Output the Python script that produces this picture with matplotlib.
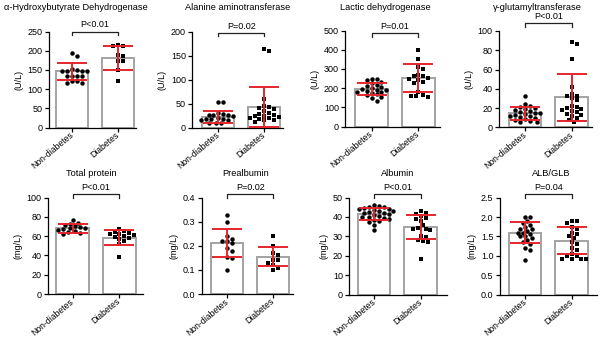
import numpy as np
import matplotlib
matplotlib.use('Agg')
import matplotlib.pyplot as plt

plt.rcParams['font.family'] = ['Liberation Sans', 'DejaVu Sans']

groups = ['Non-diabetes', 'Diabetes']

titles = ['α-Hydroxybutyrate Dehydrogenase', 'Alanine aminotransferase',
          'Lactic dehydrogenase', 'γ-glutamyltransferase',
          'Total protein', 'Prealbumin', 'Albumin', 'ALB/GLB']
units = ['(U/L)', '(U/L)', '(U/L)', '(U/L)', '(mg/L)', '(mg/L)', '(mg/L)', '(mg/L)']
pvals = ['P<0.01', 'P=0.02', 'P=0.01', 'P<0.01', 'P<0.01', 'P=0.02', 'P<0.01', 'P=0.04']
ymax = [250, 200, 500, 100, 100, 0.4, 50, 2.5]
ystep = [50, 50, 100, 20, 20, 0.1, 10, 0.5]

# bar heights (mean) and error bars (SD)
means = [[146, 181], [22, 43], [195, 252], [14.5, 31],
         [68, 58.5], [0.212, 0.155], [41.5, 34.7], [1.6, 1.39]]
sds = [[23, 31], [13, 41], [31, 74], [6.5, 24],
       [5, 7.5], [0.06, 0.04], [3, 6.2], [0.27, 0.35]]

hbdh_non = [193, 187, 152, 150, 148, 148, 148, 146, 135, 135, 133, 133, 120, 120, 115, 115]
hbdh_dia = [215, 213, 212, 190, 185, 172, 172, 150, 122]
alt_non = [54, 54, 30, 28, 26, 26, 26, 23, 19, 18, 17, 17, 16, 16, 10, 10, 9]
alt_dia = [163, 160, 60, 45, 42, 40, 38, 35, 30, 28, 26, 25, 24, 22, 20, 20, 18, 16, 15, 12]
ldh_non = [250, 245, 240, 232, 225, 218, 210, 205, 200, 196, 192, 190, 186, 182, 178,
           172, 168, 162, 155, 148, 135]
ldh_dia = [397, 351, 310, 300, 270, 265, 262, 255, 250, 240, 232, 225, 180, 165, 160, 158, 155]
ggt_non = [32, 24, 22, 21, 20, 19, 18, 17, 16, 15, 15, 14, 13, 12, 12, 11, 10, 9, 8, 7, 6, 6]
ggt_dia = [89, 86, 71, 42, 35, 33, 32, 30, 28, 22, 21, 20, 19, 18, 17, 16, 14, 13, 12, 10, 8, 6]
tp_non = [77, 74, 73, 71, 70, 69, 68, 68, 67, 66, 65, 64, 63, 62]
tp_dia = [67, 65, 64, 63, 62, 62, 61, 60, 59, 58, 57, 55, 52, 38]
pa_non = [0.33, 0.30, 0.24, 0.23, 0.22, 0.22, 0.21, 0.19, 0.18, 0.155, 0.15, 0.10]
pa_dia = [0.24, 0.20, 0.17, 0.16, 0.14, 0.14, 0.13, 0.12, 0.11, 0.10]
alb_non = [46, 45.5, 45, 45, 44.5, 44, 44, 43.5, 43, 43, 42.5, 42, 42, 41.5, 41, 40.5,
           40, 40, 39.5, 39, 38.5, 38, 37.5, 36, 33.5]
alb_dia = [43, 42, 41.5, 40.5, 39.5, 39, 38, 36, 34.5, 34, 34, 33, 30, 29.5, 28, 27.5, 27, 18.5]
ag_non = [2.0, 2.0, 1.9, 1.85, 1.8, 1.75, 1.7, 1.7, 1.65, 1.6, 1.6, 1.55, 1.5, 1.5, 1.45,
          1.4, 1.35, 1.3, 1.2, 1.15, 0.9]
ag_dia = [1.9, 1.9, 1.85, 1.75, 1.7, 1.6, 1.55, 1.5, 1.45, 1.35, 1.3, 1.2, 1.15, 1.05,
          1.0, 1.0, 0.92, 0.92, 0.92, 0.92]

points = [(hbdh_non, hbdh_dia), (alt_non, alt_dia), (ldh_non, ldh_dia), (ggt_non, ggt_dia),
          (tp_non, tp_dia), (pa_non, pa_dia), (alb_non, alb_dia), (ag_non, ag_dia)]

# layout in pixels: first tick x, tick spacing, xlim, top (ymax) y, bottom (0) y
W, H = 600, 337
layout = [
    (72.0, 46.0, (-0.5, 1.4), 31.5, 127.5),
    (218.3, 46.0, (-0.57, 1.4), 31.5, 127.5),
    (371.7, 46.7, (-0.57, 1.46), 30.5, 126.5),
    (525.0, 46.7, (-0.56, 1.44), 31.0, 127.3),
    (72.7, 46.7, (-0.53, 1.5), 197.5, 294.0),
    (227.3, 46.0, (-0.56, 1.43), 197.7, 294.0),
    (374.0, 46.7, (-0.53, 1.56), 197.5, 294.5),
    (525.0, 46.7, (-0.54, 1.54), 197.7, 294.5),
]
title_pos = [(76, 7), (238, 7), (385, 7), (537, 7), (91, 174), (246, 174), (398, 174), (551, 174)]
bracket_frac = [1.0, 0.985, 0.97, 1.08, 1.035, 1.035, 1.035, 1.035]

RED = '#e3262c'
GRAY = '#a3a3a3'


def swarm(vals, h_px, top, sp_px, d=4.4):
    ys = np.asarray(vals, dtype=float) / top * h_px
    xs = np.zeros(len(ys))
    placed = []
    for i in np.argsort(-ys):
        k = 0
        while True:
            off = ((k + 1) // 2) * (1 if k % 2 else -1) * d * 0.55
            ok = all((off - px) ** 2 + (ys[i] - py) ** 2 >= d * d for px, py in placed)
            if ok:
                break
            k += 1
        placed.append((off, ys[i]))
        xs[i] = off / sp_px
    return xs


fig = plt.figure(figsize=(6, 3.37), dpi=100)

for i in range(8):
    t0, sp, xl, ytop, ybot = layout[i]
    left = t0 + xl[0] * sp
    right = t0 + xl[1] * sp
    ax = fig.add_axes([left / W, 1 - ybot / H, (right - left) / W, (ybot - ytop) / H])
    ax.set_xlim(*xl)
    ax.set_ylim(0, ymax[i])

    ax.bar([0, 1], means[i], width=0.7, color='white', edgecolor=GRAY, linewidth=1.4, zorder=1)

    h_px = ybot - ytop
    for g, marker, ms in [(0, 'o', 3.2), (1, 's', 3.0)]:
        vals = points[i][g]
        xs = g + swarm(vals, h_px, ymax[i], sp)
        ax.plot(xs, vals, linestyle='none', marker=marker, ms=ms, color='black',
                markeredgewidth=0, zorder=3, clip_on=False)

    ax.errorbar([0, 1], means[i], yerr=sds[i], fmt='none', ecolor=RED, elinewidth=1.4,
                capsize=10.5, capthick=1.4, zorder=4, clip_on=False)

    # significance bracket
    yb = ymax[i] * bracket_frac[i]
    tick = ymax[i] * 0.035
    ax.plot([0, 0, 1, 1], [yb - tick, yb, yb, yb - tick], color='#222222', lw=0.9,
            clip_on=False, zorder=5)
    ax.text(0.5, yb + ymax[i] * 0.025, pvals[i], ha='center', va='bottom', fontsize=6.5)

    ticks = np.arange(0, ymax[i] + ystep[i] / 2, ystep[i])
    ax.set_yticks(ticks)
    if ymax[i] < 5:
        ax.set_yticklabels([f'{v:.1f}' for v in ticks])
    ax.set_xticks([0, 1])
    ax.set_xticklabels(groups, rotation=40, ha='right', va='center', rotation_mode='anchor',
                       fontsize=6.2)
    ax.tick_params(axis='y', labelsize=6.5)
    ax.tick_params(length=3, width=0.9, pad=1.5)
    ax.tick_params(axis='x', pad=1.5)
    ax.set_ylabel(units[i], fontsize=6.5, labelpad=3)
    for s in ['top', 'right']:
        ax.spines[s].set_visible(False)
    for s in ['left', 'bottom']:
        ax.spines[s].set_linewidth(0.9)

    tx, ty = title_pos[i]
    fig.text(tx / W, 1 - ty / H, titles[i], ha='center', va='center', fontsize=6.7)

fig.savefig('out.png', dpi=100)
